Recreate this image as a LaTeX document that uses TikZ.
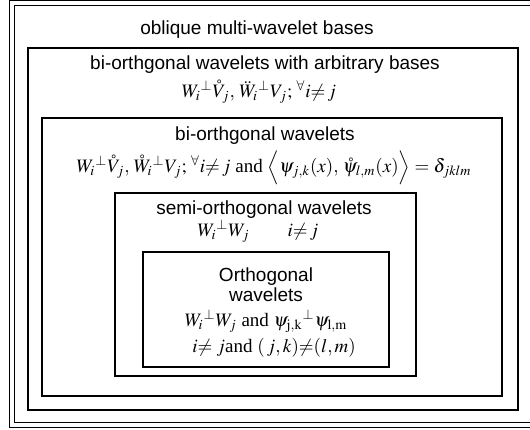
\documentclass[tikz,border=0pt]{standalone}
\usepackage{mathptmx}
\usepackage{fontspec}
\setmainfont{Liberation Serif}
\setsansfont{Liberation Sans}
\usetikzlibrary{fit}
\tikzset{
  frame/.style={draw=black, line width=1pt, inner sep=0pt},
  outerframe/.style={draw=black, line width=0.5pt, double, double distance=2pt},
  lbl/.style={font=\fontsize{9.5}{10}\selectfont\sffamily, align=center, inner sep=0pt},
  eqn/.style={font=\fontsize{9.5}{10}\selectfont, inner sep=0pt}
}

\begin{document}
\begin{tikzpicture}[x=0.5pt, y=-0.5pt]
\useasboundingbox (0,0) rectangle (530,429);
% outer frame, open at the right
\draw[outerframe] (530,3) -- (11.5,3) -- (11.5,424.5) -- (530,424.5);
\node[lbl] (oblique) at (257,30) {oblique multi-wavelet bases};
% nested classes
\node[frame, fit={(28,48) (518,410)}] (arbbox) {};
\node[frame, fit={(42,118) (502,396)}] (biobox) {};
\node[frame, fit={(115,193) (416,376)}] (semibox) {};
\node[frame, fit={(143,252) (389,367)}] (orthbox) {};
% labels and conditions
\node[lbl] (arbtitle) at (265,65) {bi-orthgonal wavelets with arbitrary bases};
\node[eqn] (arbcond) at (259,92) {$W_i{}^{\perp}\mathring{V}_j,\,\ddot{W}_i{}^{\perp}V_j;\,{}^{\forall}i{\neq}\,j$};
\node[lbl] (biotitle) at (265,136) {bi-orthgonal wavelets};
\node[eqn] (biocond) at (274,168) {$W_i{}^{\perp}\mathring{V}_j,\,\mathring{W}_i{}^{\perp}V_j;\,{}^{\forall}i{\neq}\,j$ and $\Big\langle\psi_{j,k}(x),\,\mathring{\psi}_{l,m}(x)\Big\rangle=\delta_{jklm}$};
\node[lbl] (semititle) at (264,210) {semi-orthogonal wavelets};
\node[eqn] (semicond) at (258,231) {$W_i{}^{\perp}W_j\qquad i{\neq}\,j$};
\node[lbl] (orthtitle) at (266,285) {Orthogonal\\wavelets};
\node[eqn] (orthcond) at (266,321) {$W_i{}^{\perp}W_j$ and $\psi_{\mathrm{j,k}}{}^{\perp}\psi_{\mathrm{l,m}}$};
\node[eqn] (orthidx) at (274,348) {$i{\neq}\;j$and $(\,j,k){\neq}(l,m)$};
\end{tikzpicture}
\end{document}
